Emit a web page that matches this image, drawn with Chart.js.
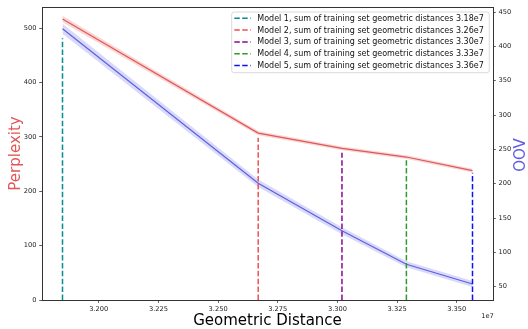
<!DOCTYPE html>
<html><head><meta charset="utf-8">
<script src="https://cdn.jsdelivr.net/npm/chart.js@4/dist/chart.umd.min.js"></script>
<style>html,body{margin:0;padding:0;background:#fff;overflow:hidden}#wrap{width:528px;height:329px}</style>
</head><body><div id="wrap"><canvas id="c" width="528" height="329"></canvas></div>
<script>
// Geometric distance of each model (in units of 1e7)
const distances = [3.1848, 3.2668, 3.3019, 3.3289, 3.3566];
const legendLabels = [
  'Model 1, sum of training set geometric distances 3.18e7',
  'Model 2, sum of training set geometric distances 3.26e7',
  'Model 3, sum of training set geometric distances 3.30e7',
  'Model 4, sum of training set geometric distances 3.33e7',
  'Model 5, sum of training set geometric distances 3.36e7'
];
const perplexity = [517, 307, 279, 263, 238];
const perplexityLow = [511, 303, 275.5, 259.5, 234.5];
const perplexityHigh = [523, 311, 282.5, 266.5, 241.5];
const oov = [425.7, 200.7, 131.4, 82.7, 53.9];
const oovLow = [418.5, 195.2, 126.4, 78.3, 49.7];
const oovHigh = [433, 206.2, 136.4, 87.1, 58.1];
const vlineTops = [481.6, 298.7, 271, 259, 234.3];
const xTicks = [3.200, 3.225, 3.250, 3.275, 3.300, 3.325, 3.350];
const perplexityTicks = [0, 100, 200, 300, 400, 500];
const oovTicks = [50, 100, 150, 200, 250, 300, 350, 400, 450];

const FONT = "'DejaVu Sans', sans-serif";
const vlineColors = ['#0a8c8c', '#ec5252', '#8b0a95', '#2e9b2e', '#1010f5'];
const RED = '#e05757', BLUE = '#5e5ee2';

const datasets = [];
distances.forEach((d, i) => {
  datasets.push({
    label: legendLabels[i],
    data: [{x: d, y: 0}, {x: d, y: vlineTops[i]}],
    borderColor: vlineColors[i], borderDash: [5.5, 2.4], borderWidth: 1.5,
    pointRadius: 0, fill: false, yAxisID: 'y', order: 0, isVline: true
  });
});
datasets.push({label: 'pp_high', data: distances.map((x, i) => ({x, y: perplexityHigh[i]})),
  borderWidth: 0, pointRadius: 0, fill: '+1', backgroundColor: 'rgba(240,130,130,0.32)', yAxisID: 'y', order: 2});
datasets.push({label: 'pp_low', data: distances.map((x, i) => ({x, y: perplexityLow[i]})),
  borderWidth: 0, pointRadius: 0, fill: false, yAxisID: 'y', order: 2});
datasets.push({label: 'oov_high', data: distances.map((x, i) => ({x, y: oovHigh[i]})),
  borderWidth: 0, pointRadius: 0, fill: '+1', backgroundColor: 'rgba(130,130,235,0.3)', yAxisID: 'y2', order: 2});
datasets.push({label: 'oov_low', data: distances.map((x, i) => ({x, y: oovLow[i]})),
  borderWidth: 0, pointRadius: 0, fill: false, yAxisID: 'y2', order: 2});
datasets.push({label: 'Perplexity', data: distances.map((x, i) => ({x, y: perplexity[i]})),
  borderColor: RED, borderWidth: 1.2, pointRadius: 0, fill: false, yAxisID: 'y', order: 1});
datasets.push({label: 'OOV', data: distances.map((x, i) => ({x, y: oov[i]})),
  borderColor: BLUE, borderWidth: 1.2, pointRadius: 0, fill: false, yAxisID: 'y2', order: 1});

const span = distances[distances.length - 1] - distances[0];
const xMin = distances[0] - 0.05 * span, xMax = distances[distances.length - 1] + 0.05 * span;

const gridOpts = {display: true, drawOnChartArea: false, drawTicks: true, tickLength: 2.8, color: '#333', lineWidth: 0.8};
const borderOpts = {display: true, color: '#333', width: 1};
const tickFont = {family: FONT, size: 6.67};

const extras = {
  id: 'extras',
  afterDraw(chart) {
    const ctx = chart.ctx, ca = chart.chartArea;
    ctx.save();
    // top spine
    ctx.strokeStyle = '#333'; ctx.lineWidth = 1;
    ctx.beginPath(); ctx.moveTo(ca.left, Math.round(ca.top) + 0.5); ctx.lineTo(ca.right, Math.round(ca.top) + 0.5); ctx.stroke();
    // OOV title (reads bottom to top)
    ctx.save();
    ctx.translate(520.7, 155); ctx.rotate(-Math.PI / 2);
    ctx.font = '15px ' + FONT; ctx.fillStyle = BLUE; ctx.textAlign = 'center'; ctx.textBaseline = 'middle';
    ctx.fillText('OOV', 0, 0);
    ctx.restore();
    // offset text
    ctx.font = '6.67px ' + FONT; ctx.fillStyle = '#222'; ctx.textAlign = 'center'; ctx.textBaseline = 'middle';
    ctx.fillText('1e7', 487.5, 316.5);
    // legend
    const bx = 231.7, by = 12, bw = 257.6, bh = 60.7, r = 2.5;
    ctx.fillStyle = 'rgba(255,255,255,0.85)'; ctx.strokeStyle = '#d0d0d0'; ctx.lineWidth = 0.8;
    ctx.beginPath();
    ctx.moveTo(bx + r, by); ctx.lineTo(bx + bw - r, by); ctx.arcTo(bx + bw, by, bx + bw, by + r, r);
    ctx.lineTo(bx + bw, by + bh - r); ctx.arcTo(bx + bw, by + bh, bx + bw - r, by + bh, r);
    ctx.lineTo(bx + r, by + bh); ctx.arcTo(bx, by + bh, bx, by + bh - r, r);
    ctx.lineTo(bx, by + r); ctx.arcTo(bx, by, bx + r, by, r); ctx.closePath();
    ctx.fill(); ctx.stroke();
    ctx.font = '8px ' + FONT; ctx.textAlign = 'left'; ctx.textBaseline = 'middle';
    chart.data.datasets.filter(d => d.isVline).forEach((d, i) => {
      const y = 18.3 + i * 11.8;
      ctx.strokeStyle = d.borderColor; ctx.lineWidth = 1.5; ctx.setLineDash([5.5, 2.4]);
      ctx.beginPath(); ctx.moveTo(234.3, y); ctx.lineTo(250.7, y); ctx.stroke();
      ctx.setLineDash([]);
      ctx.fillStyle = '#111';
      ctx.fillText(d.label, 257.3, y + 0.5);
    });
    ctx.restore();
  }
};

new Chart(document.getElementById('c'), {
  type: 'line',
  data: {datasets},
  plugins: [extras],
  options: {
    responsive: false, animation: false, devicePixelRatio: 1,
    layout: {padding: {top: 7, left: 0, right: 0, bottom: 0}},
    plugins: {legend: {display: false}, tooltip: {enabled: false}, filler: {propagate: false}},
    scales: {
      x: {
        type: 'linear', min: xMin, max: xMax,
        grid: gridOpts, border: borderOpts,
        ticks: {font: tickFont, color: '#222', padding: 2.8, maxRotation: 0, autoSkip: false, includeBounds: false,
          callback: v => Number(v).toFixed(3)},
        title: {display: true, text: 'Geometric Distance', color: '#000', font: {family: FONT, size: 15, lineHeight: 1.1}, padding: {top: 0, bottom: 0}},
        afterBuildTicks: s => { s.ticks = xTicks.map(v => ({value: v})); },
        afterFit: s => { s.height = 29; }
      },
      y: {
        type: 'linear', position: 'left', min: 0, max: 539,
        grid: gridOpts, border: borderOpts,
        ticks: {font: tickFont, color: '#222', padding: 2.8, includeBounds: false},
        title: {display: true, text: 'Perplexity', color: RED, font: {family: FONT, size: 15, lineHeight: 1.2}, padding: {top: 6.7, bottom: 0}},
        afterBuildTicks: s => { s.ticks = perplexityTicks.map(v => ({value: v})); },
        afterFit: s => { s.width = 42; }
      },
      y2: {
        type: 'linear', position: 'right', min: 30.6, max: 457.3,
        grid: gridOpts, border: borderOpts,
        ticks: {font: tickFont, color: '#222', padding: 2.8, includeBounds: false},
        title: {display: false},
        afterBuildTicks: s => { s.ticks = oovTicks.map(v => ({value: v})); },
        afterFit: s => { s.width = 35; }
      }
    }
  }
});
</script>
</body></html>
